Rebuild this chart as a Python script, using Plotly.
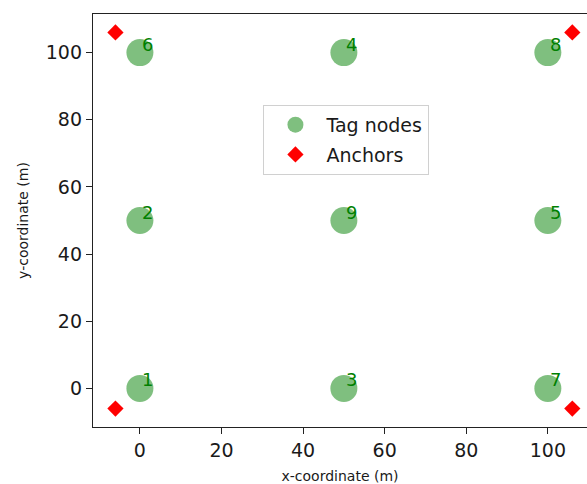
import plotly.graph_objects as go

tag_x = [0, 0, 50, 50, 100, 0, 100, 100, 50]
tag_y = [0, 50, 0, 100, 50, 100, 0, 100, 50]
tag_labels = ["1", "2", "3", "4", "5", "6", "7", "8", "9"]

anchor_x = [-6, -6, 106, 106]
anchor_y = [-6, 106, 106, -6]

x_ticks = [0, 20, 40, 60, 80, 100]
y_ticks = [0, 20, 40, 60, 80, 100]

FONT = "DejaVu Sans"
TXT = "#1a1a1a"

fig = go.Figure()
fig.add_trace(go.Scatter(
    x=tag_x, y=tag_y, mode="markers", name="Tag nodes", legendgroup="a",
    marker=dict(size=27, color="rgba(0,128,0,0.5)", line=dict(width=0)),
))
fig.add_trace(go.Scatter(
    x=anchor_x, y=anchor_y, mode="markers", name="Anchors", legendgroup="b",
    marker=dict(size=12.5, symbol="diamond", color="#ff0000", line=dict(width=0)),
))

for xv, yv, lab in zip(tag_x, tag_y, tag_labels):
    fig.add_annotation(x=xv, y=yv, text=lab, showarrow=False,
                       xanchor="left", yanchor="bottom", yshift=-4, xshift=0,
                       font=dict(family=FONT, size=18, color="#008000"))

fig.update_layout(
    width=587, height=484,
    margin=dict(l=93, r=0, t=14, b=57),
    paper_bgcolor="white", plot_bgcolor="white",
    font=dict(family=FONT, size=19, color=TXT),
    showlegend=True,
    legend=dict(x=0.345, y=0.78, xanchor="left", yanchor="top",
                bgcolor="rgba(255,255,255,0.8)", bordercolor="#d0d0d0", borderwidth=1,
                font=dict(family=FONT, size=19, color=TXT),
                itemsizing="trace", itemwidth=52, tracegroupgap=2,
                traceorder="grouped"),
)
fig.update_xaxes(
    range=[-11.5, 109.6], tickvals=x_ticks, ticktext=[str(v) for v in x_ticks],
    showgrid=False, zeroline=False, showline=True, mirror=True,
    linecolor="#222222", linewidth=1.3,
    ticks="outside", ticklen=6, tickcolor="#222222", tickwidth=1.2,
    tickfont=dict(family=FONT, size=19, color=TXT),
    title=dict(text="x-coordinate (m)", font=dict(family=FONT, size=14, color=TXT), standoff=11),
)
fig.update_yaxes(
    range=[-11.5, 111.5], tickvals=y_ticks, ticktext=[str(v) for v in y_ticks],
    showgrid=False, zeroline=False, showline=True, mirror=False,
    linecolor="#222222", linewidth=1.3,
    ticks="outside", ticklen=6, tickcolor="#222222", tickwidth=1.2,
    tickfont=dict(family=FONT, size=19, color=TXT),
    title=dict(text="y-coordinate (m)", font=dict(family=FONT, size=14, color=TXT), standoff=13),
)

fig.write_html("out.html")
